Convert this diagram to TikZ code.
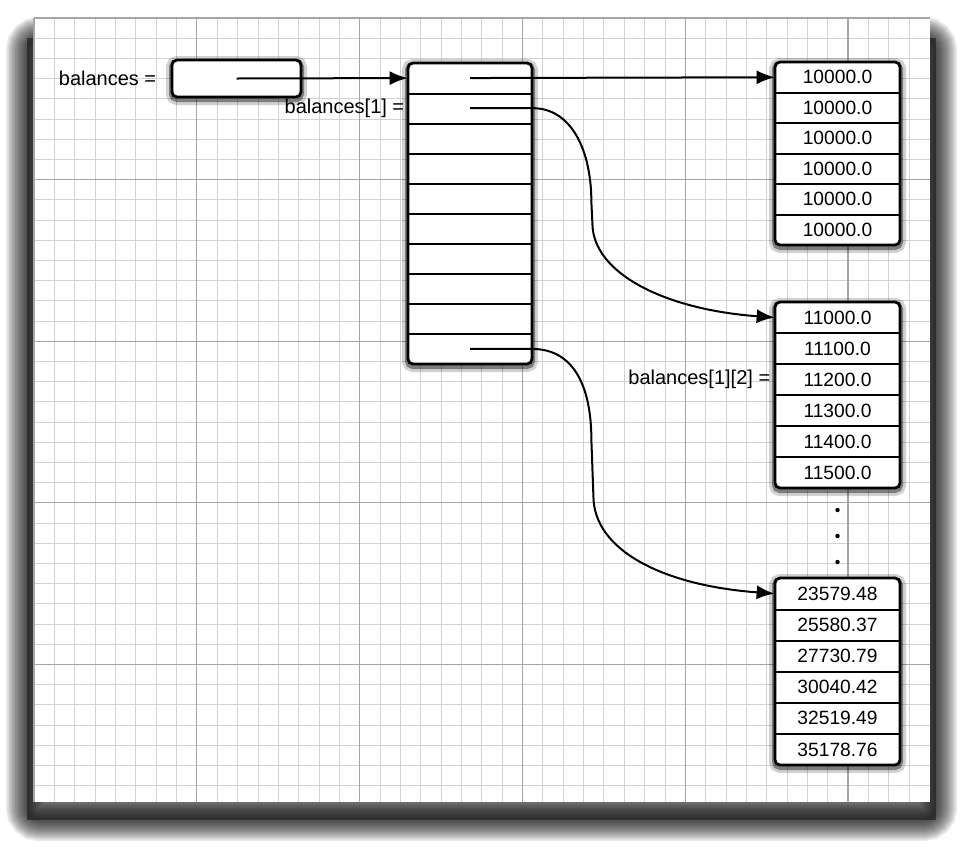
\documentclass[tikz,border=0pt]{standalone}
\usepackage{fontspec}
\setmainfont{Liberation Sans}
\usetikzlibrary{positioning,arrows.meta}

\tikzset{
  minor/.style={gray!35, line width=0.35pt},
  major/.style={gray!70, line width=0.6pt},
  halo/.style={
    preaction={draw=black, opacity=.18, line width=6pt, transform canvas={yshift=-1pt}},
    preaction={draw=black, opacity=.4, line width=3pt, transform canvas={yshift=-1pt}}},
  arrbox/.style={draw, fill=white, line width=1.4pt, rounded corners=2.5pt, inner sep=0pt, halo},
  cell/.style={inner sep=0pt, font=\fontsize{9.6}{11.5}\selectfont},
  divider/.style={line width=1pt},
  ptr/.style={line width=1pt, -{Latex[length=9pt,width=7pt]}},
  lbl/.style={inner sep=0pt, font=\fontsize{10}{12}\selectfont}
}

\begin{document}
\begin{tikzpicture}[x=0.5pt, y=-0.5pt]
  \useasboundingbox (0,0) rectangle (972,852);
  % paper shadow
  \fill[black, opacity=.45] (27,38) rectangle (936,820);
  \foreach \w in {1,...,14}
    \draw[line width=1.5*\w pt, opacity=.08, rounded corners=6pt] (27,38) rectangle (936,820);
  % grid paper
  \fill[white] (34,18) rectangle (930,802);
  \foreach \i in {0,...,43}
    \draw[minor] ({34+20.35*\i},18) -- ({34+20.35*\i},802);
  \foreach \j in {0,...,38}
    \draw[minor] (34,{18+20.2*\j}) -- (930,{18+20.2*\j});
  \foreach \i in {0,8,...,40}
    \draw[major] ({34+20.35*\i},18) -- ({34+20.35*\i},802);
  \foreach \j in {0,8,...,32}
    \draw[major] (34,{18+20.2*\j}) -- (930,{18+20.2*\j});

  % the variable
  \node[arrbox, minimum width=64.5pt, minimum height=18.5pt] (bal) at (236.5,78.5) {};
  \node[lbl, left=7pt of bal] (balname) {balances =};

  % array of row references
  \node[arrbox, minimum width=62pt, minimum height=150.5pt] (rows) at (470,213.5) {};
  \foreach \i in {0,...,9}
    \node[cell, minimum width=62pt, minimum height=15.05pt] (p\i) at (470,{78.05+30.1*\i}) {};
  \foreach \i in {0,...,8}
    \draw[divider] (p\i.south west) -- (p\i.south east);
  \node[lbl, left=1.5pt of p1] (rowname) {balances[1] =};

  % first row
  \node[arrbox, minimum width=62.5pt, minimum height=91.5pt] (rowA) at (837.5,153.5) {};
  \foreach \v [count=\i from 0] in {10000.0,10000.0,10000.0,10000.0,10000.0,10000.0}
    \node[cell, minimum width=62.5pt, minimum height=15.25pt] (a\i) at (837.5,{77.25+30.5*\i}) {\v};
  \foreach \i in {0,...,4}
    \draw[divider] (a\i.south west) -- (a\i.south east);

  % second row
  \node[arrbox, minimum width=62.5pt, minimum height=93pt] (rowB) at (837.5,395) {};
  \foreach \v [count=\i from 0] in {11000.0,11100.0,11200.0,11300.0,11400.0,11500.0}
    \node[cell, minimum width=62.5pt, minimum height=15.5pt] (b\i) at (837.5,{317.5+31*\i}) {\v};
  \foreach \i in {0,...,4}
    \draw[divider] (b\i.south west) -- (b\i.south east);
  \node[lbl, left=2pt of b2] (elemname) {balances[1][2] =};

  % more rows
  \foreach \d in {22,48,74}
    \fill (837.5,{488+\d}) circle (1.1pt);

  % last row
  \node[arrbox, minimum width=62.5pt, minimum height=93.5pt] (rowC) at (837.5,671.5) {};
  \foreach \v [count=\i from 0] in {23579.48,25580.37,27730.79,30040.42,32519.49,35178.76}
    \node[cell, minimum width=62.5pt, minimum height=15.58pt] (c\i) at (837.5,{593.6+31.17*\i}) {\v};
  \foreach \i in {0,...,4}
    \draw[divider] (c\i.south west) -- (c\i.south east);

  % references
  \draw[ptr] (bal.center) -- (p0.west);
  \draw[ptr] (p0.center) -- (a0.west);
  \draw[ptr] (p1.center) -- (p1.east) .. controls +(38,0) and +(0,-55) .. ++(59,95)
    -- ++(1,20) .. controls +(0,50) and +(-110,-8) .. (b0.west);
  \draw[ptr] (p9.center) -- (p9.east) .. controls +(38,0) and +(0,-60) .. ++(59,92)
    -- ++(2,55) .. controls +(0,55) and +(-110,-8) .. (c0.west);
\end{tikzpicture}
\end{document}
